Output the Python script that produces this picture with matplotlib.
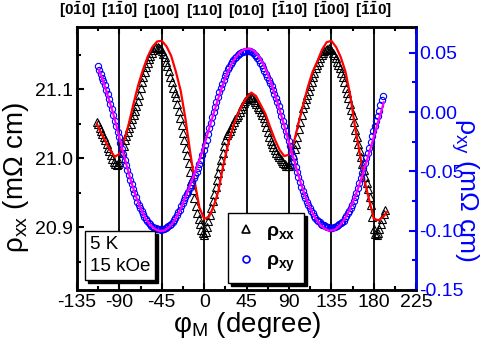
import numpy as np
import matplotlib.pyplot as plt
from matplotlib.lines import Line2D

plt.rcParams['font.family'] = ['Liberation Sans', 'DejaVu Sans']
plt.rcParams['mathtext.fontset'] = 'custom'
plt.rcParams['mathtext.rm'] = 'Liberation Sans'
plt.rcParams['mathtext.it'] = 'Liberation Sans:italic'
plt.rcParams['mathtext.bf'] = 'Liberation Sans:bold'
plt.rcParams['axes.unicode_minus'] = False

# rho_xx data (mOhm cm), 1.5 degree steps starting at -114
rho_xx = [21.053, 21.049, 21.044, 21.040, 21.035, 21.031, 21.026, 21.021, 21.015, 21.010, 21.004, 20.999,
          20.994, 20.991, 20.990, 20.991, 20.994, 21.000, 21.008, 21.017, 21.026, 21.032, 21.038, 21.044,
          21.050, 21.056, 21.062, 21.068, 21.075, 21.083, 21.092, 21.101, 21.110, 21.118, 21.125, 21.132,
          21.138, 21.143, 21.148, 21.152, 21.156, 21.159, 21.161, 21.161, 21.160, 21.158, 21.155, 21.151,
          21.146, 21.140, 21.134, 21.126, 21.118, 21.110, 21.102, 21.095, 21.088, 21.078, 21.068, 21.058,
          21.048, 21.037, 21.026, 21.015, 21.005, 20.993, 20.980, 20.967, 20.954, 20.942, 20.930, 20.921,
          20.912, 20.904, 20.896, 20.891, 20.888, 20.893, 20.900, 20.909, 20.918, 20.928, 20.938, 20.948,
          20.958, 20.968, 20.978, 20.988, 20.998, 21.008, 21.018, 21.026, 21.033, 21.037, 21.040, 21.044,
          21.048, 21.052, 21.056, 21.060, 21.063, 21.067, 21.071, 21.076, 21.080, 21.083, 21.086, 21.088,
          21.089, 21.088, 21.087, 21.084, 21.081, 21.078, 21.074, 21.071, 21.067, 21.063, 21.058, 21.052,
          21.045, 21.038, 21.031, 21.025, 21.020, 21.016, 21.012, 21.008, 21.005, 21.002, 20.999, 20.996,
          20.993, 20.991, 20.989, 20.988, 20.988, 20.992, 20.998, 21.005, 21.013, 21.021, 21.030, 21.042,
          21.053, 21.063, 21.072, 21.079, 21.085, 21.092, 21.098, 21.105, 21.111, 21.118, 21.124, 21.130,
          21.135, 21.140, 21.145, 21.149, 21.152, 21.155, 21.157, 21.158, 21.159, 21.158, 21.156, 21.153,
          21.149, 21.145, 21.140, 21.135, 21.130, 21.124, 21.117, 21.110, 21.102, 21.095, 21.087, 21.079,
          21.070, 21.062, 21.053, 21.041, 21.030, 21.020, 21.010, 21.001, 20.992, 20.983, 20.973, 20.964,
          20.955, 20.944, 20.932, 20.915, 20.898, 20.890, 20.888, 20.892, 20.898, 20.905, 20.912, 20.919,
          20.925]
phi_xx = -114 + 1.5 * np.arange(len(rho_xx))

# rho_xx fit
phi_xx_fit = [-114, -110, -105, -100, -95, -90, -85, -80, -75, -70, -65, -60, -55, -50, -45, -40, -35, -30, -25, -20,
              -15, -10, -5, 0, 5, 10, 15, 20, 25, 30, 35, 40, 45, 50, 55, 60, 65, 70, 75, 80, 85, 90, 95, 100,
              105, 110, 115, 120, 125, 130, 135, 140, 145, 150, 155, 160, 165, 170, 175, 180, 185, 190, 194]
rho_xx_fit = [21.050, 21.038, 21.025, 21.012, 21.002, 21.006, 21.025, 21.050, 21.079, 21.106, 21.128, 21.147, 21.161,
              21.169, 21.170, 21.162, 21.148, 21.125, 21.098, 21.058, 21.010, 20.965, 20.928, 20.912, 20.915, 20.930,
              20.952, 20.988, 21.018, 21.043, 21.062, 21.076, 21.088, 21.095, 21.090, 21.077, 21.064, 21.045, 21.027,
              21.012, 21.003, 21.005, 21.022, 21.050, 21.077, 21.103, 21.125, 21.140, 21.157, 21.168, 21.170, 21.161,
              21.146, 21.125, 21.091, 21.046, 21.008, 20.968, 20.940, 20.912, 20.910, 20.915, 20.922]

# rho_xy data (mOhm cm), 1.5 degree steps starting at -113
rho_xy = [0.0386, 0.0353, 0.0320, 0.0291, 0.0262, 0.0226, 0.0190, 0.0149, 0.0108, 0.0067, 0.0025, -0.0024,
          -0.0072, -0.0119, -0.0166, -0.0213, -0.0260, -0.0308, -0.0355, -0.0400, -0.0445, -0.0487, -0.0528,
          -0.0569, -0.0610, -0.0645, -0.0680, -0.0718, -0.0755, -0.0783, -0.0810, -0.0835, -0.0860, -0.0883,
          -0.0905, -0.0920, -0.0935, -0.0947, -0.0958, -0.0967, -0.0975, -0.0981, -0.0986, -0.0988, -0.0990,
          -0.0991, -0.0990, -0.0985, -0.0980, -0.0971, -0.0962, -0.0951, -0.0940, -0.0925, -0.0910, -0.0890,
          -0.0870, -0.0846, -0.0822, -0.0795, -0.0768, -0.0741, -0.0714, -0.0692, -0.0670, -0.0643, -0.0615,
          -0.0588, -0.0560, -0.0533, -0.0505, -0.0473, -0.0440, -0.0400, -0.0360, -0.0320, -0.0280, -0.0233,
          -0.0185, -0.0138, -0.0090, -0.0045, 0.0000, 0.0043, 0.0085, 0.0125, 0.0165, 0.0203, 0.0240, 0.0273,
          0.0305, 0.0333, 0.0360, 0.0383, 0.0405, 0.0423, 0.0440, 0.0453, 0.0465, 0.0478, 0.0490, 0.0498,
          0.0505, 0.0510, 0.0515, 0.0517, 0.0518, 0.0517, 0.0515, 0.0508, 0.0500, 0.0485, 0.0470, 0.0453,
          0.0435, 0.0415, 0.0395, 0.0370, 0.0345, 0.0320, 0.0295, 0.0270, 0.0245, 0.0218, 0.0190, 0.0155,
          0.0120, 0.0087, 0.0053, 0.0012, -0.0030, -0.0073, -0.0115, -0.0157, -0.0198, -0.0244, -0.0290,
          -0.0333, -0.0375, -0.0418, -0.0460, -0.0503, -0.0545, -0.0588, -0.0630, -0.0665, -0.0700, -0.0728,
          -0.0755, -0.0780, -0.0805, -0.0830, -0.0855, -0.0875, -0.0895, -0.0908, -0.0920, -0.0930, -0.0940,
          -0.0948, -0.0955, -0.0963, -0.0970, -0.0973, -0.0975, -0.0976, -0.0975, -0.0970, -0.0965, -0.0958,
          -0.0950, -0.0943, -0.0935, -0.0925, -0.0915, -0.0895, -0.0875, -0.0853, -0.0830, -0.0805, -0.0780,
          -0.0750, -0.0720, -0.0680, -0.0640, -0.0598, -0.0555, -0.0513, -0.0470, -0.0430, -0.0390, -0.0345,
          -0.0300, -0.0253, -0.0205, -0.0160, -0.0115, -0.0075, -0.0035, 0.0013, 0.0060, 0.0098, 0.0135]
phi_xy = -113 + 1.5 * np.arange(len(rho_xy))

# rho_xy fit
phi_xy_fit = [-112, -107, -102, -97, -92, -87, -82, -77, -72, -67, -62, -57, -52, -47, -42, -37, -32, -27, -22, -17,
              -12, -7, -2, 3, 8, 13, 18, 23, 28, 33, 38, 43, 48, 53, 58, 63, 68, 73, 78, 83, 88, 93, 98, 103, 108,
              113, 118, 123, 128, 133, 138, 143, 148, 153, 158, 163, 168, 173, 178, 183, 188, 190.5]
rho_xy_fit = [0.0358, 0.0255, 0.0130, 0.0000, -0.0150, -0.0310, -0.0460, -0.0600, -0.0720, -0.0820, -0.0900, -0.0955,
              -0.0988, -0.1002, -0.0998, -0.0970, -0.0920, -0.0850, -0.0760, -0.0660, -0.0555, -0.0450, -0.0335,
              -0.0200, -0.0065, 0.0065, 0.0190, 0.0300, 0.0390, 0.0460, 0.0505, 0.0530, 0.0535, 0.0515, 0.0470, 0.0400,
              0.0310, 0.0200, 0.0075, -0.0060, -0.0200, -0.0340, -0.0480, -0.0610, -0.0725, -0.0820, -0.0895, -0.0950,
              -0.0985, -0.1000, -0.0995, -0.0965, -0.0915, -0.0845, -0.0755, -0.0650, -0.0530, -0.0400, -0.0265,
              -0.0125, 0.0010, 0.0081]

dir_ticks = [-135, -90, -45, 0, 45, 90, 135, 180]
dir_labels = [r'$\mathbf{[0\bar{1}0]}$', r'$\mathbf{[1\bar{1}0]}$', r'$\mathbf{[100]}$', r'$\mathbf{[110]}$',
              r'$\mathbf{[010]}$', r'$\mathbf{[\bar{1}10]}$', r'$\mathbf{[\bar{1}00]}$', r'$\mathbf{[\bar{1}\bar{1}0]}$']

fig = plt.figure(figsize=(4.83, 3.47), dpi=100)
ax = fig.add_axes([0.1594, 0.1643, 0.7023, 0.7579])
ax2 = ax.twinx()

for v in dir_ticks[1:]:
    ax.axvline(v, color='k', lw=1.3, zorder=1)

ax.plot(phi_xx, rho_xx, ls='none', marker='^', ms=5.5, mfc='none', mec='k', mew=0.8, zorder=2)
ax.plot(phi_xx_fit, rho_xx_fit, color='red', lw=1.6, zorder=3)
ax2.plot(phi_xy, rho_xy, ls='none', marker='o', ms=4.5, mfc='none', mec='blue', mew=0.8)
ax2.plot(phi_xy_fit, rho_xy_fit, color='magenta', lw=1.6)

ax.set_xlim(-135, 225)
ax.set_xticks(range(-135, 226, 45))
ax.set_xticks(np.arange(-112.5, 225, 45), minor=True)
ax.set_ylim(20.809, 21.19)
ax.set_yticks([20.9, 21.0, 21.1])
ax.set_yticks([20.85, 20.95, 21.05, 21.15], minor=True)
ax.set_yticklabels(['20.9', '21.0', '21.1'])
ax2.set_ylim(-0.15, 0.0717)
ax2.set_yticks([-0.15, -0.10, -0.05, 0.00, 0.05])
ax2.set_yticklabels(['-0.15', '-0.10', '-0.05', '0.00', '0.05'])
ax2.set_yticks([-0.125, -0.075, -0.025, 0.025], minor=True)

ax.tick_params(which='both', direction='in', top=True, width=1.5, labelsize=14, pad=3)
ax.tick_params(which='major', length=5)
ax.tick_params(which='minor', length=3)
ax2.tick_params(which='both', direction='in', width=1.5, colors='blue', labelsize=14, pad=2)
ax2.tick_params(which='major', length=5)
ax2.tick_params(which='minor', length=3)

for s in ax.spines.values():
    s.set_linewidth(1.8)
for s in ax2.spines.values():
    s.set_linewidth(1.8)
ax2.spines['right'].set_color('blue')

top = ax.secondary_xaxis('top')
top.set_xticks(dir_ticks, dir_labels)
top.tick_params(length=0, labelsize=11, pad=5)

ax.set_xlabel(r'$\mathrm{\varphi_M}$ (degree)', fontsize=20, labelpad=-1)
ax.set_ylabel(r'$\mathrm{\rho_{xx}}$ (m$\mathrm{\Omega}$ cm)', fontsize=20)
ax.yaxis.set_label_coords(-0.135, 0.43)
ax2.set_ylabel(r'$\mathrm{\rho_{xy}}$ (m$\mathrm{\Omega}$ cm)', fontsize=19, color='blue', rotation=270)
ax2.yaxis.set_label_coords(1.19, 0.38)

h1 = Line2D([], [], ls='none', marker='^', mfc='none', mec='k', ms=6, mew=1.2)
h2 = Line2D([], [], ls='none', marker='o', mfc='none', mec='blue', ms=5, mew=1.2)
leg = ax2.legend([h1, h2], [r'$\mathbf{\rho_{xx}}$', r'$\mathbf{\rho_{xy}}$'], loc='lower left',
                 bbox_to_anchor=(0.445, 0.027), borderaxespad=0, fancybox=False, edgecolor='k', framealpha=1,
                 shadow={'color': 'k', 'alpha': 1}, prop={'size': 14, 'weight': 'bold'}, handlelength=1.0,
                 handletextpad=0.5, labelspacing=0.55, borderpad=0.45)
leg.get_frame().set_linewidth(1)
ax2.add_artist(leg)

blank = Line2D([], [], ls='none')
leg2 = ax2.legend([blank, blank], ['5 K', '15 kOe'], loc='lower left', bbox_to_anchor=(0.024, 0.038),
                  borderaxespad=0, fancybox=False, edgecolor='k', framealpha=1, shadow={'color': 'k', 'alpha': 1},
                  prop={'size': 13.5}, handlelength=0, handletextpad=0, labelspacing=0.3, borderpad=0.25)
leg2.get_frame().set_linewidth(1)

fig.savefig('out.png', dpi=100)
